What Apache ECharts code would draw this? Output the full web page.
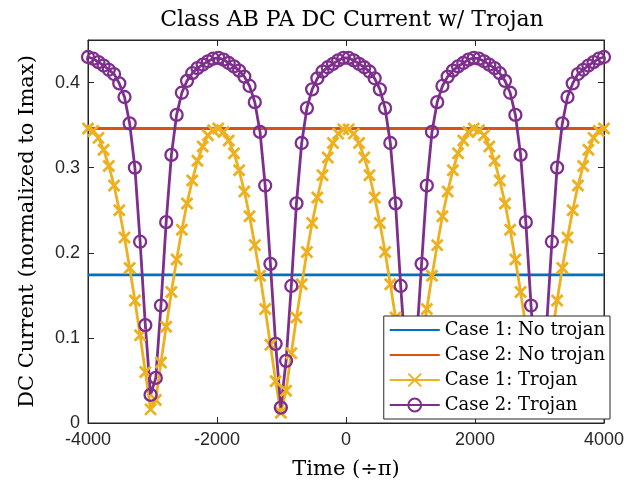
<!DOCTYPE html>
<html>
<head>
<meta charset="utf-8">
<script src="https://cdn.jsdelivr.net/npm/echarts@6/dist/echarts.min.js"></script>
<style>
  html, body { margin: 0; padding: 0; background: #fff; }
  #main { width: 641px; height: 489px; }
</style>
</head>
<body>
<div id="main"></div>
<script>
// time axis (divided by pi), sample points
var time = [-4000, -3919, -3838, -3758, -3677, -3596, -3515, -3434, -3354, -3273,
	-3192, -3111, -3030, -2949, -2869, -2788, -2707, -2626, -2545, -2465,
	-2384, -2303, -2222, -2141, -2061, -1980, -1899, -1818, -1737, -1657,
	-1576, -1495, -1414, -1333, -1253, -1172, -1091, -1010, -929, -848,
	-768, -687, -606, -525, -444, -364, -283, -202, -121, -40,
	40, 121, 202, 283, 364, 444, 525, 606, 687, 768,
	848, 929, 1010, 1091, 1172, 1253, 1333, 1414, 1495, 1576,
	1657, 1737, 1818, 1899, 1980, 2061, 2141, 2222, 2303, 2384,
	2465, 2545, 2626, 2707, 2788, 2869, 2949, 3030, 3111, 3192,
	3273, 3354, 3434, 3515, 3596, 3677, 3758, 3838, 3919, 4000];

// Case 1: Trojan
var case1Trojan = [0.346, 0.343, 0.335, 0.321, 0.302, 0.279, 0.250, 0.218, 0.182, 0.144,
	0.103, 0.060, 0.016, 0.027, 0.071, 0.113, 0.154, 0.192, 0.227, 0.258,
	0.285, 0.308, 0.325, 0.338, 0.344, 0.346, 0.342, 0.332, 0.317, 0.297,
	0.272, 0.243, 0.209, 0.173, 0.134, 0.092, 0.049, 0.012, 0.038, 0.082,
	0.124, 0.163, 0.201, 0.235, 0.265, 0.291, 0.312, 0.329, 0.340, 0.345,
	0.345, 0.340, 0.329, 0.312, 0.291, 0.265, 0.235, 0.201, 0.163, 0.124,
	0.082, 0.038, 0.012, 0.049, 0.092, 0.134, 0.173, 0.209, 0.243, 0.272,
	0.297, 0.317, 0.332, 0.342, 0.346, 0.344, 0.338, 0.325, 0.308, 0.285,
	0.258, 0.227, 0.192, 0.154, 0.113, 0.071, 0.027, 0.016, 0.060, 0.103,
	0.144, 0.182, 0.218, 0.250, 0.279, 0.302, 0.321, 0.335, 0.343, 0.346];

// Case 2: Trojan
var case2Trojan = [0.430, 0.428, 0.424, 0.420, 0.415, 0.410, 0.399, 0.383, 0.352, 0.300,
	0.213, 0.115, 0.033, 0.053, 0.138, 0.236, 0.315, 0.362, 0.388, 0.402,
	0.411, 0.417, 0.421, 0.425, 0.428, 0.429, 0.427, 0.423, 0.419, 0.414,
	0.407, 0.396, 0.377, 0.342, 0.279, 0.187, 0.093, 0.018, 0.073, 0.161,
	0.258, 0.329, 0.370, 0.392, 0.405, 0.413, 0.418, 0.422, 0.426, 0.429,
	0.429, 0.426, 0.422, 0.418, 0.413, 0.405, 0.392, 0.370, 0.329, 0.258,
	0.161, 0.073, 0.018, 0.093, 0.187, 0.279, 0.342, 0.377, 0.396, 0.407,
	0.414, 0.419, 0.423, 0.427, 0.429, 0.428, 0.425, 0.421, 0.417, 0.411,
	0.402, 0.388, 0.362, 0.315, 0.236, 0.138, 0.053, 0.033, 0.115, 0.213,
	0.300, 0.352, 0.383, 0.399, 0.410, 0.415, 0.420, 0.424, 0.428, 0.430];

// no trojan cases are flat
var noTrojanTime = [-4000, 4000];
var case1NoTrojan = [0.174, 0.174];
var case2NoTrojan = [0.346, 0.346];

var seriesNames = ['Case 1: No trojan', 'Case 2: No trojan', 'Case 1: Trojan', 'Case 2: Trojan'];

function pairs(xs, ys) {
	var out = [];
	for (var i = 0; i < xs.length; i++) {
		out.push([xs[i], ys[i]]);
	}
	return out;
}

var axisColor = '#262626';
var serif = '"DejaVu Serif", "Liberation Serif", serif';
var sans = '"Liberation Sans", Arial, sans-serif';

var myChart = echarts.init(document.getElementById('main'));

var tickStyle = {
	inside : true,
	length : 6,
	lineStyle : { color : axisColor, width : 1 }
};
var hiddenDot = { color : 'rgba(0,0,0,0)', borderWidth : 0 };

var option = {
	backgroundColor : '#FFFFFF',
	animation : false,
	title : {
		text : 'Class AB PA DC Current w/ Trojan',
		left : 347,
		textAlign : 'center',
		top : 4,
		textStyle : { fontFamily : serif, fontSize : 22, fontWeight : 'normal', color : '#000' }
	},
	grid : {
		left : 88, right : 37, top : 40, bottom : 66,
		show : true,
		borderColor : axisColor,
		borderWidth : 1
	},
	legend : {
		orient : 'vertical',
		right : 31,
		top : 316,
		data : [
			{ name : seriesNames[0], itemStyle : hiddenDot },
			{ name : seriesNames[1], itemStyle : hiddenDot },
			{ name : seriesNames[2] },
			{ name : seriesNames[3] }
		],
		itemWidth : 50,
		itemHeight : 16,
		itemGap : 7,
		padding : [5, 5, 5, 5],
		backgroundColor : '#fff',
		borderColor : axisColor,
		borderWidth : 1,
		textStyle : { fontFamily : serif, fontSize : 18, color : '#000' }
	},
	xAxis : [{
		type : 'value',
		min : -4000, max : 4000, interval : 2000,
		name : 'Time (÷π)',
		nameLocation : 'middle',
		nameGap : 36,
		nameTextStyle : { fontFamily : serif, fontSize : 21, color : '#000' },
		axisLine : { onZero : false, lineStyle : { color : axisColor } },
		axisTick : tickStyle,
		axisLabel : {
			fontFamily : sans, fontSize : 18, color : '#262626', margin : 8,
			formatter : function(v) { return String(v); }
		},
		splitLine : { show : false }
	}, {
		type : 'value', position : 'top',
		min : -4000, max : 4000, interval : 2000,
		axisLine : { onZero : false, lineStyle : { color : axisColor } },
		axisTick : tickStyle,
		axisLabel : { show : false },
		splitLine : { show : false }
	}],
	yAxis : [{
		type : 'value',
		min : 0, max : 0.45, interval : 0.1,
		name : 'DC Current (normalized to Imax)',
		nameLocation : 'middle',
		nameGap : 50,
		nameTextStyle : { fontFamily : serif, fontSize : 21, color : '#000' },
		axisLine : { show : true, onZero : false, lineStyle : { color : axisColor } },
		axisTick : tickStyle,
		axisLabel : { fontFamily : sans, fontSize : 18, color : '#262626', margin : 8, showMaxLabel : false },
		splitLine : { show : false }
	}, {
		type : 'value', position : 'right',
		min : 0, max : 0.45, interval : 0.1,
		axisLine : { show : true, onZero : false, lineStyle : { color : axisColor } },
		axisTick : tickStyle,
		axisLabel : { show : false },
		splitLine : { show : false }
	}],
	series : [{
		name : seriesNames[0],
		type : 'line',
		data : pairs(noTrojanTime, case1NoTrojan),
		symbol : 'none',
		lineStyle : { color : '#0072BD', width : 2.8 },
		itemStyle : { color : '#0072BD' }
	}, {
		name : seriesNames[1],
		type : 'line',
		data : pairs(noTrojanTime, case2NoTrojan),
		symbol : 'none',
		lineStyle : { color : '#D95319', width : 2.8 },
		itemStyle : { color : '#D95319' }
	}, {
		name : seriesNames[2],
		type : 'line',
		data : pairs(time, case1Trojan),
		symbol : 'path://M0,0L10,10M0,10L10,0',
		symbolSize : 11,
		showAllSymbol : true,
		lineStyle : { color : '#EDB120', width : 2.8 },
		itemStyle : { color : '#EDB120', borderColor : '#EDB120', borderWidth : 2.8 }
	}, {
		name : seriesNames[3],
		type : 'line',
		data : pairs(time, case2Trojan),
		symbol : 'circle',
		symbolSize : 12,
		showAllSymbol : true,
		lineStyle : { color : '#7E2F8E', width : 2.8 },
		itemStyle : { color : 'rgba(0,0,0,0)', borderColor : '#7E2F8E', borderWidth : 2.3 }
	}]
};

myChart.setOption(option);
</script>
</body>
</html>
